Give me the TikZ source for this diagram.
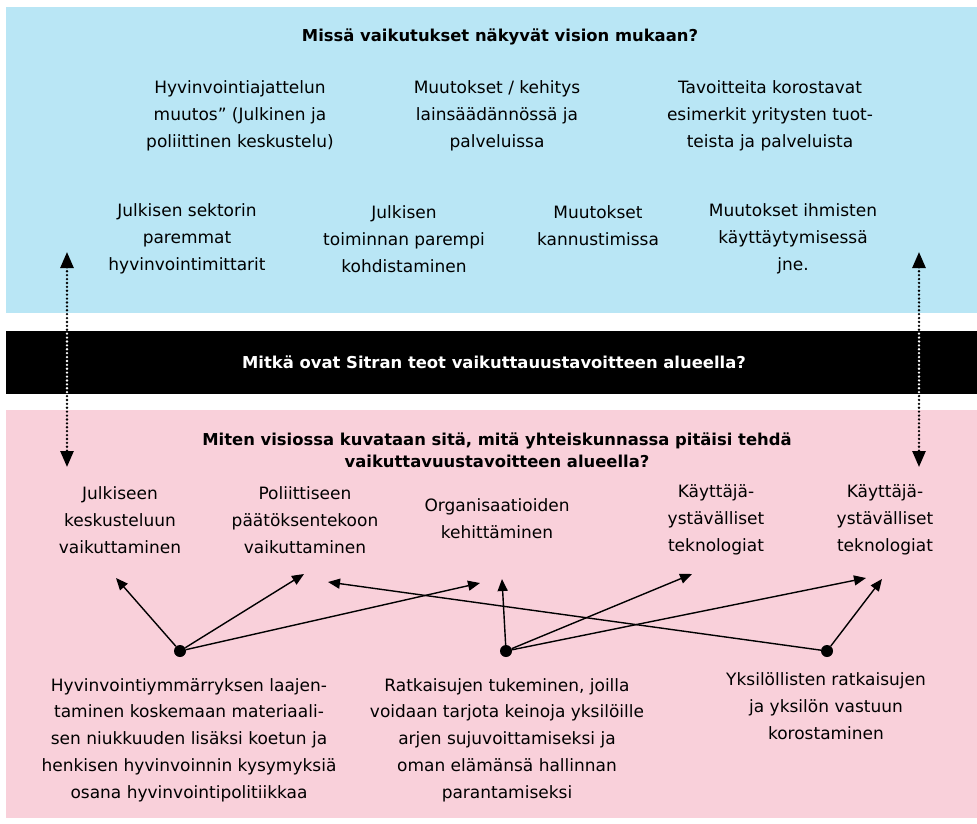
\documentclass[tikz,border=0pt]{standalone}
\usepackage{fontspec}
\setmainfont{DejaVu Sans}
\usepackage{xcolor}
\usepackage{tikz}
\usetikzlibrary{arrows.meta, calc}
\definecolor{VisionBlue}{HTML}{B9E6F5}
\definecolor{SocietyPink}{HTML}{F9D0DA}

\begin{document}
\begin{tikzpicture}[x=1pt, y=-1pt, every node/.style={font=\fontsize{17}{26.8}\selectfont}]
      \tikzset{
        panel/.style={rectangle, draw=none, anchor=north west, minimum width=971pt, inner sep=0pt},
        head/.style={align=center, font=\bfseries\fontsize{16.4}{22}\selectfont},
        item/.style={align=center, inner sep=0pt},
        dot/.style={circle, fill=black, minimum size=12pt, inner sep=0pt},
        link/.style={-{Triangle[length=12pt, width=10pt]}, line width=1.4pt},
        dotline/.style={{Triangle[length=16pt, width=13pt]}-{Triangle[length=16pt, width=13pt]}, line width=2.6pt, dash pattern=on 0pt off 3.9pt, line cap=round}
      }
      \useasboundingbox (0,0) rectangle (977,823);

      % Panels
      \node[panel, fill=VisionBlue, minimum height=306pt] (vision) at (6,7) {};
      \node[panel, fill=black, minimum height=63pt] (sitra) at (6,331) {};
      \node[panel, fill=SocietyPink, minimum height=408pt] (society) at (6,410) {};

      % Headings
      \node[head] (q-vision) at (500,37) {Missä vaikutukset näkyvät vision mukaan?};
      \node[head, text=white] (q-sitra) at (494,362) {Mitkä ovat Sitran teot vaikuttauustavoitteen alueella?};
      \node[head] (q-society) at (497,450) {Miten visiossa kuvataan sitä, mitä yhteiskunnassa pitäisi tehdä\\vaikuttavuustavoitteen alueella?};

      % Vision effects
      \node[item] (ajattelu) at (240,116) {Hyvinvointiajattelun\\muutos” (Julkinen ja\\poliittinen keskustelu)};
      \node[item] (lainsaadanto) at (497,116) {Muutokset / kehitys\\lainsäädännössä ja\\palveluissa};
      \node[item] (esimerkit) at (770,116) {Tavoitteita korostavat\\esimerkit yritysten tuot-\\teista ja palveluista};
      \node[item] (mittarit) at (187,239) {Julkisen sektorin\\paremmat\\hyvinvointimittarit};
      \node[item] (kohdistus) at (404,239) {Julkisen\\toiminnan parempi\\kohdistaminen};
      \node[item] (kannusteet) at (598,226) {Muutokset\\kannustimissa};
      \node[item] (kaytos) at (793,239) {Muutokset ihmisten\\käyttäytymisessä\\jne.};

      % Society targets
      \node[item] (julkinen) at (120,520) {Julkiseen\\keskusteluun\\vaikuttaminen};
      \node[item] (poliittinen) at (305,520) {Poliittiseen\\päätöksentekoon\\vaikuttaminen};
      \node[item] (organisaatiot) at (497,519) {Organisaatioiden\\kehittäminen};
      \node[item] (tekno-a) at (716,520) {Käyttäjä-\\ystävälliset\\teknologiat};
      \node[item] (tekno-b) at (885,520) {Käyttäjä-\\ystävälliset\\teknologiat};

      % Sitra actions
      \node[dot] (laajennus) at (180,651) {};
      \node[dot] (tukeminen) at (506,651) {};
      \node[dot] (yksilo) at (827,651) {};
      \node[item] (laajennus-txt) at (189,740) {Hyvinvointiymmärryksen laajen-\\taminen koskemaan materiaali-\\sen niukkuuden lisäksi koetun ja\\henkisen hyvinvoinnin kysymyksiä\\osana hyvinvointipolitiikkaa};
      \node[item] (tukeminen-txt) at (507,740) {Ratkaisujen tukeminen, joilla\\voidaan tarjota keinoja yksilöille\\arjen sujuvoittamiseksi ja\\oman elämänsä hallinnan\\parantamiseksi};
      \node[item] (yksilo-txt) at (826,706) {Yksilöllisten ratkaisujen\\ja yksilön vastuun\\korostaminen};

      % Arrow ends
      \coordinate (julkinen-in) at ($(julkinen)+(-4,58)$);
      \coordinate (poliittinen-in) at ($(poliittinen)+(-1,54)$);
      \coordinate (poliittinen-in2) at ($(poliittinen)+(23,62)$);
      \coordinate (organisaatiot-in) at ($(organisaatiot)+(-17,64)$);
      \coordinate (organisaatiot-in2) at ($(organisaatiot)+(5,60)$);
      \coordinate (tekno-a-in) at ($(tekno-a)+(-24,54)$);
      \coordinate (tekno-b-in) at ($(tekno-b)+(-19,58)$);
      \coordinate (tekno-b-in2) at ($(tekno-b)+(-3,59)$);
      \coordinate (left-up) at (67,252);
      \coordinate (left-down) at (67,467);
      \coordinate (right-up) at (919,252);
      \coordinate (right-down) at (919,467);

      % Connections
      \draw[link] (laajennus) -- (julkinen-in);
      \draw[link] (laajennus) -- (poliittinen-in);
      \draw[link] (laajennus) -- (organisaatiot-in);
      \draw[link] (tukeminen) -- (organisaatiot-in2);
      \draw[link] (tukeminen) -- (tekno-a-in);
      \draw[link] (tukeminen) -- (tekno-b-in);
      \draw[link] (yksilo) -- (poliittinen-in2);
      \draw[link] (yksilo) -- (tekno-b-in2);
      \draw[dotline] (left-up) -- (left-down);
      \draw[dotline] (right-up) -- (right-down);
      \begin{scope}
        \clip (sitra.north west) rectangle (sitra.south east);
        \draw[dotline, white] (left-up) -- (left-down);
        \draw[dotline, white] (right-up) -- (right-down);
      \end{scope}

    \end{tikzpicture}
\end{document}
